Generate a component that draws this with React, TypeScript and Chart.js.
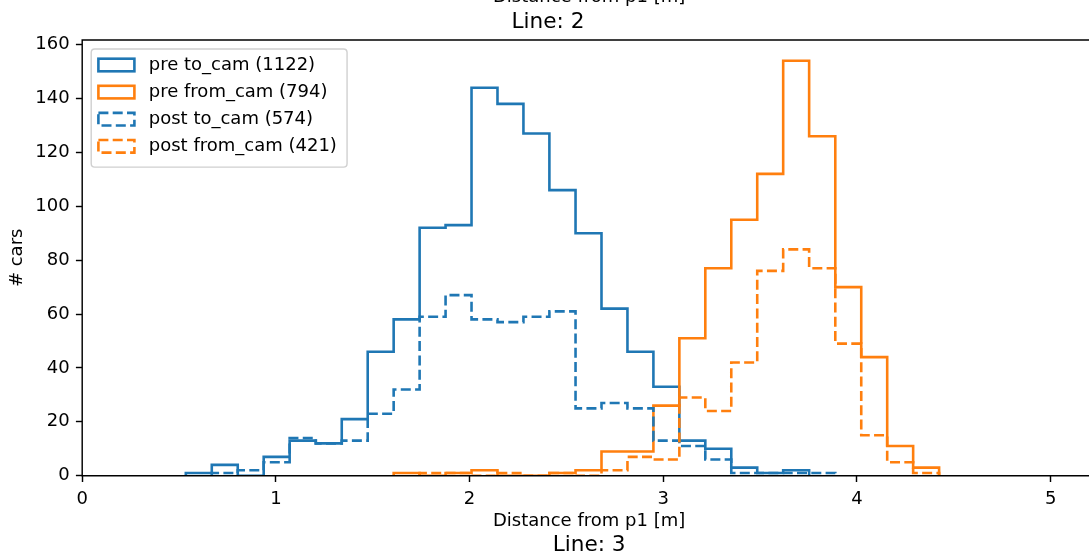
import React, { useEffect, useRef } from 'react';
import { Chart, registerables } from 'chart.js';

Chart.register(...registerables);

// ---- data ----
const binEdges = [
  0.535, 0.669, 0.803, 0.937, 1.071, 1.206, 1.340, 1.474, 1.608, 1.742,
  1.876, 2.010, 2.144, 2.278, 2.412, 2.547, 2.681, 2.815, 2.949, 3.083,
  3.217, 3.351, 3.485, 3.619, 3.753, 3.888, 4.022, 4.156, 4.290, 4.424,
];
const preToCam = [1, 4, 0, 7, 13, 12, 21, 46, 58, 92, 93, 144, 138, 127, 106, 90, 62, 46, 33, 13, 10, 3, 1, 2, 0, 0, 0, 0, 0];
const preFromCam = [0, 0, 0, 0, 0, 0, 0, 0, 1, 0, 1, 2, 0, 0, 1, 2, 9, 9, 26, 51, 77, 95, 112, 154, 126, 70, 44, 11, 3];
const postToCam = [0, 1, 2, 5, 14, 12, 13, 23, 32, 59, 67, 58, 57, 59, 61, 25, 27, 25, 13, 11, 6, 1, 1, 1, 1, 0, 0, 0, 0];
const postFromCam = [0, 0, 0, 0, 0, 0, 0, 0, 0, 1, 1, 0, 1, 0, 1, 0, 2, 7, 6, 29, 24, 42, 76, 84, 77, 49, 15, 5, 1];

const seriesNames = ['pre to_cam', 'pre from_cam', 'post to_cam', 'post from_cam'];
const seriesTotals = [1122, 794, 574, 421];

const xTickValues = [0, 1, 2, 3, 4, 5];
const yTickValues = [0, 20, 40, 60, 80, 100, 120, 140, 160];

const titleText = 'Line: 2';
const nextTitleText = 'Line: 3';
const prevXLabel = 'Distance from p1 [m]';
const xLabel = 'Distance from p1 [m]';
const yLabel = '# cars';

// ---- styles ----
const FONT = '"DejaVu Sans", sans-serif';
const BLUE = '#1f77b4';
const ORANGE = '#ff7f0e';
const LW = 2.6;
const DASH = [10, 4.3];

function stepPoints(counts: number[]) {
  let first = 0;
  while (first < counts.length && counts[first] === 0) first++;
  let last = counts.length - 1;
  while (last > first && counts[last] === 0) last--;
  const pts: { x: number; y: number }[] = [{ x: binEdges[first], y: 0 }];
  for (let i = first; i <= last; i++) pts.push({ x: binEdges[i], y: counts[i] });
  pts.push({ x: binEdges[last + 1], y: 0 });
  return pts;
}

const spinesPlugin = {
  id: 'spines',
  afterDatasetsDraw(chart: any) {
    const { ctx, chartArea: a } = chart;
    ctx.save();
    ctx.strokeStyle = '#000';
    ctx.lineWidth = 1.44;
    ctx.setLineDash([]);
    ctx.beginPath();
    ctx.moveTo(a.left, a.top);
    ctx.lineTo(a.right, a.top);
    ctx.lineTo(a.right, a.bottom);
    ctx.lineTo(a.left, a.bottom);
    ctx.closePath();
    ctx.stroke();
    ctx.restore();
  },
};

const extraTextPlugin = {
  id: 'extraText',
  afterDraw(chart: any) {
    const { ctx, chartArea: a } = chart;
    const cx = (a.left + a.right) / 2;
    ctx.save();
    ctx.fillStyle = '#000';
    ctx.textAlign = 'center';
    ctx.textBaseline = 'middle';
    ctx.font = `18px ${FONT}`;
    ctx.fillText(prevXLabel, cx, -3);
    ctx.font = `21.6px ${FONT}`;
    ctx.fillText(nextTitleText, cx, a.bottom + 70);
    ctx.restore();
  },
};

const legendPlugin = {
  id: 'mplLegend',
  afterDraw(chart: any) {
    const { ctx, chartArea: a } = chart;
    const datasets = chart.data.datasets;
    const fs = 18;
    const pad = 7.2;
    const handleW = 36;
    const handleH = 12.6;
    const textPad = 14.4;
    const pitch = 27.1;
    const x0 = a.left + 9;
    const y0 = a.top + 9;
    ctx.save();
    ctx.font = `${fs}px ${FONT}`;
    let maxW = 0;
    datasets.forEach((ds: any) => {
      maxW = Math.max(maxW, ctx.measureText(ds.label).width);
    });
    const w = pad + handleW + textPad + maxW + pad + 3;
    const h = pad + pitch * datasets.length + 2.5;
    const r = 3.6;
    ctx.beginPath();
    ctx.moveTo(x0 + r, y0);
    ctx.lineTo(x0 + w - r, y0);
    ctx.quadraticCurveTo(x0 + w, y0, x0 + w, y0 + r);
    ctx.lineTo(x0 + w, y0 + h - r);
    ctx.quadraticCurveTo(x0 + w, y0 + h, x0 + w - r, y0 + h);
    ctx.lineTo(x0 + r, y0 + h);
    ctx.quadraticCurveTo(x0, y0 + h, x0, y0 + h - r);
    ctx.lineTo(x0, y0 + r);
    ctx.quadraticCurveTo(x0, y0, x0 + r, y0);
    ctx.closePath();
    ctx.fillStyle = 'rgba(255,255,255,0.8)';
    ctx.fill();
    ctx.strokeStyle = '#d0d0d0';
    ctx.lineWidth = 1.4;
    ctx.stroke();

    datasets.forEach((ds: any, i: number) => {
      const cy = y0 + 16 + i * pitch;
      ctx.setLineDash(ds.borderDash || []);
      ctx.strokeStyle = ds.borderColor;
      ctx.lineWidth = ds.borderWidth;
      ctx.strokeRect(x0 + pad, cy - handleH / 2, handleW, handleH);
      ctx.setLineDash([]);
      ctx.fillStyle = '#000';
      ctx.textAlign = 'left';
      ctx.textBaseline = 'middle';
      ctx.fillText(ds.label, x0 + pad + handleW + textPad, cy);
    });
    ctx.restore();
  },
};

export default function App() {
  const canvasRef = useRef<HTMLCanvasElement | null>(null);

  useEffect(() => {
    if (!canvasRef.current) return;
    const seriesData = [preToCam, preFromCam, postToCam, postFromCam];
    const colors = [BLUE, ORANGE, BLUE, ORANGE];
    const dashes = [[], [], DASH, DASH];
    const datasets = seriesData.map((counts, i) => ({
      label: `${seriesNames[i]} (${seriesTotals[i]})`,
      data: stepPoints(counts),
      borderColor: colors[i],
      backgroundColor: 'rgba(0,0,0,0)',
      borderWidth: LW,
      borderDash: dashes[i],
      stepped: true,
      pointRadius: 0,
      fill: false,
      order: seriesData.length - i,
    }));

    const tickFont = { family: FONT, size: 18 };
    const gridOpts = {
      display: true,
      drawOnChartArea: false,
      drawTicks: true,
      tickLength: 6.3,
      tickWidth: 1.44,
      tickColor: '#000',
    };

    const chart = new Chart(canvasRef.current, {
      type: 'line',
      data: { datasets },
      options: {
        responsive: false,
        animation: false,
        devicePixelRatio: 1,
        layout: { padding: { top: 0, right: 4, bottom: 0, left: 0 } },
        plugins: {
          legend: { display: false },
          tooltip: { enabled: false },
          title: {
            display: true,
            text: titleText,
            color: '#000',
            font: { family: FONT, size: 21.6, weight: 'normal', lineHeight: 1.2 },
            padding: { top: 9, bottom: 5.08 },
          },
        },
        scales: {
          x: {
            type: 'linear',
            min: 0,
            max: 5.234,
            afterBuildTicks: (s: any) => {
              s.ticks = xTickValues.map((v) => ({ value: v }));
            },
            afterFit: (s: any) => {
              s.height = 82.3;
            },
            grid: gridOpts,
            border: { display: false },
            ticks: {
              color: '#000',
              font: tickFont,
              padding: 6.3,
              autoSkip: false,
              maxRotation: 0,
              callback: (v: any) => String(v),
            },
            title: {
              display: true,
              text: xLabel,
              color: '#000',
              font: { family: FONT, size: 18, lineHeight: 1.2 },
              padding: { top: 0, bottom: 26.2 },
            },
          },
          y: {
            type: 'linear',
            min: 0,
            max: 161.7,
            afterBuildTicks: (s: any) => {
              s.ticks = yTickValues.map((v) => ({ value: v }));
            },
            afterFit: (s: any) => {
              s.width = 82.2;
            },
            grid: gridOpts,
            border: { display: false },
            ticks: {
              color: '#000',
              font: tickFont,
              padding: 6.3,
              autoSkip: false,
              callback: (v: any) => String(v),
            },
            title: {
              display: true,
              text: yLabel,
              color: '#000',
              font: { family: FONT, size: 18, lineHeight: 1.2 },
              padding: { top: 7, bottom: 0 },
            },
          },
        },
      } as any,
      plugins: [spinesPlugin, legendPlugin, extraTextPlugin],
    });
    return () => chart.destroy();
  }, []);

  return (
    <div
      style={{
        position: 'absolute',
        left: 0,
        top: 0,
        width: 1089,
        height: 558,
        overflow: 'hidden',
        background: '#fff',
      }}
    >
      <canvas ref={canvasRef} width={1100} height={558} style={{ display: 'block' }} />
    </div>
  );
}
